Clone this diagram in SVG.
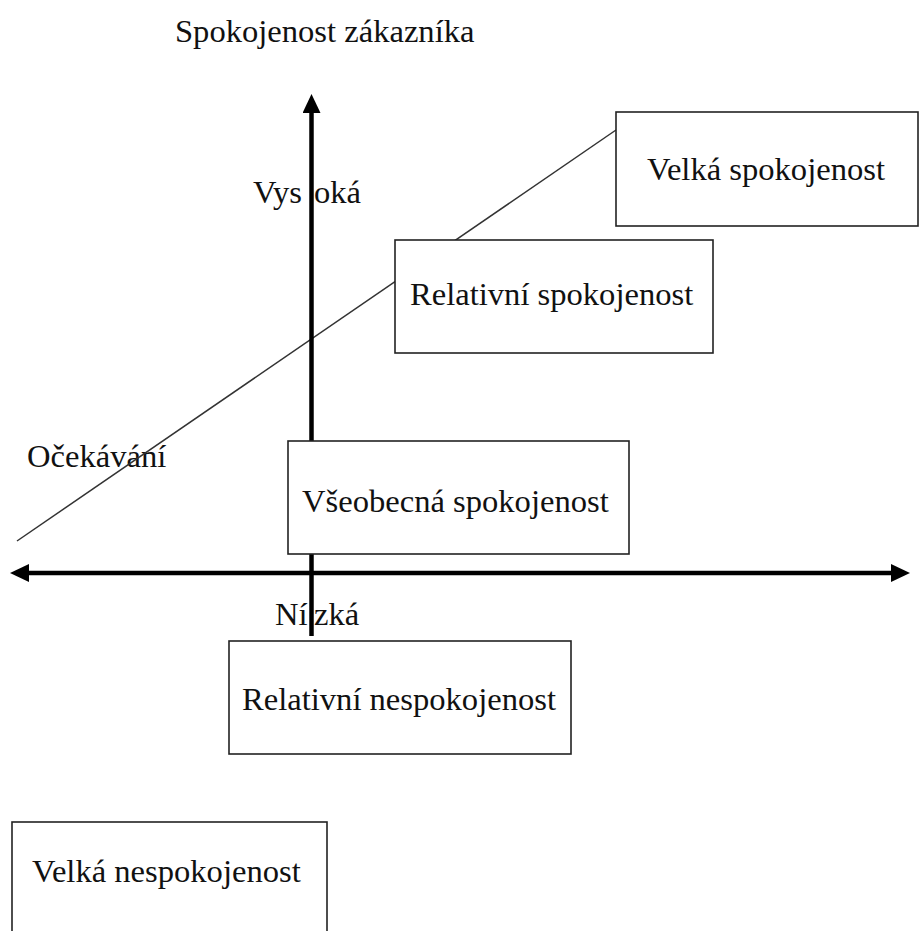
<svg xmlns="http://www.w3.org/2000/svg" width="920" height="931" viewBox="0 0 920 931">
  <style>
    text { font-family: "Liberation Serif", "Times New Roman", serif; font-size: 32.6px; fill: #111; }
    .box { fill: #fff; stroke: #222; stroke-width: 1.6; }
    .axis { fill: none; stroke: #000; stroke-width: 4.5; }
    .trend { fill: none; stroke: #333; stroke-width: 1.5; }
  </style>
  <defs>
    <marker id="head" viewBox="0 -9 19 18" refX="1" refY="0" markerWidth="19" markerHeight="18" markerUnits="userSpaceOnUse" orient="auto-start-reverse">
      <path d="M0,-9 L19,0 L0,9 z" fill="#000"/>
    </marker>
  </defs>

  <rect width="920" height="931" fill="#fff"/>

  <!-- axis and line labels -->
  <g id="labels">
    <text x="175" y="42">Spokojenost zákazníka</text>
    <text x="253" y="203">Vys<tspan x="314">oká</tspan></text>
    <text x="275" y="625">Ní<tspan x="314">zká</tspan></text>
    <text x="27" y="467">Očekávání</text>
  </g>

  <!-- expectation line and the two axes -->
  <g id="connectors">
    <line class="trend" x1="17" y1="541" x2="616" y2="130"/>
    <line class="axis" x1="311.5" y1="636" x2="311.5" y2="112" marker-end="url(#head)"/>
    <line class="axis" x1="28" y1="573" x2="892" y2="573" marker-start="url(#head)" marker-end="url(#head)"/>
  </g>

  <g id="velka-spokojenost">
    <rect class="box" x="616" y="112" width="302" height="114"/>
    <text x="647" y="180">Velká spokojenost</text>
  </g>

  <g id="relativni-spokojenost">
    <rect class="box" x="395" y="240" width="318" height="113"/>
    <text x="410" y="305">Relativní spokojenost</text>
  </g>

  <g id="vseobecna-spokojenost">
    <rect class="box" x="288" y="441" width="341" height="113"/>
    <text x="302" y="512">Všeobecná spokojenost</text>
  </g>

  <g id="relativni-nespokojenost">
    <rect class="box" x="229" y="641" width="342" height="113"/>
    <text x="242" y="710">Relativní nespokojenost</text>
  </g>

  <g id="velka-nespokojenost">
    <rect class="box" x="12" y="822" width="315" height="130"/>
    <text x="32" y="882">Velká nespokojenost</text>
  </g>
</svg>
